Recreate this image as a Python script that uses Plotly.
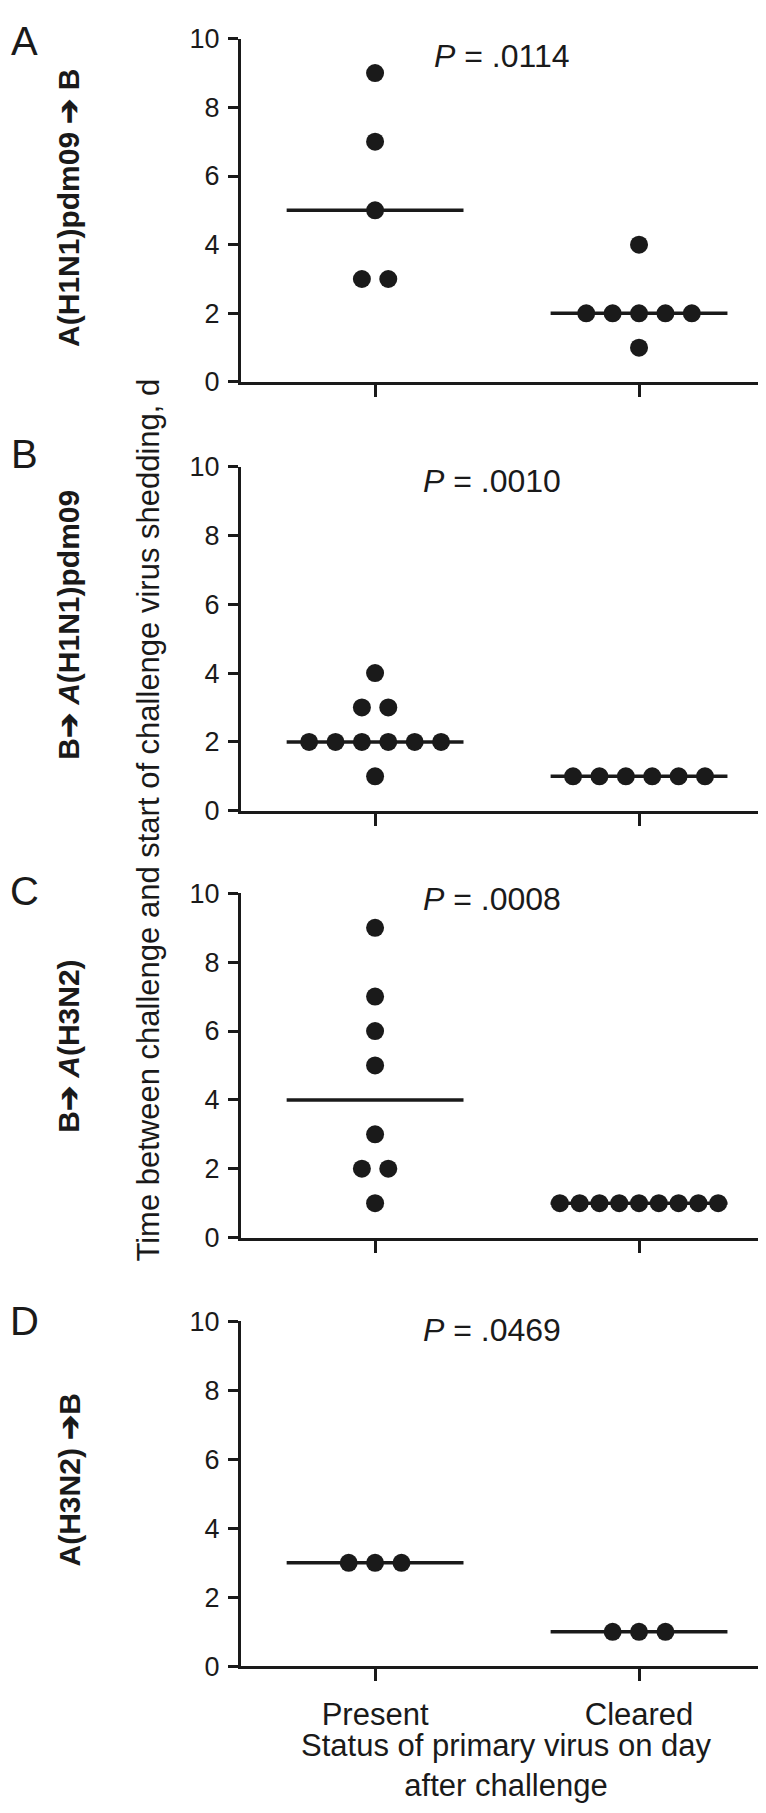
import numpy as np
import plotly.graph_objects as go
from plotly.subplots import make_subplots

W, H = 766, 1813

groups = ["Present", "Cleared"]
panel_letters = ["A", "B", "C", "D"]
row_titles = [
    "A(H1N1)pdm09 ➔ B",
    "B➔ <i>A</i>(H1N1)pdm09",
    "B➔ <i>A</i>(H3N2)",
    "A(H3N2) ➔B",
]
p_values = [".0114", ".0010", ".0008", ".0469"]

a_present = [9, 7, 5, 3, 3]
a_cleared = [4, 2, 2, 2, 2, 2, 1]
b_present = [4, 3, 3, 2, 2, 2, 2, 2, 2, 1]
b_cleared = [1, 1, 1, 1, 1, 1]
c_present = [9, 7, 6, 5, 3, 2, 2, 1]
c_cleared = [1, 1, 1, 1, 1, 1, 1, 1, 1]
d_present = [3, 3, 3]
d_cleared = [1, 1, 1]

panels = [
    (a_present, a_cleared),
    (b_present, b_cleared),
    (c_present, c_cleared),
    (d_present, d_cleared),
]

y_ticks = [0, 2, 4, 6, 8, 10]

# pixel layout (top, bottom of each plot area)
plot_px = [(16, 365), (451, 801), (885, 1235), (1320, 1671)]
x_px = (233, 763)
letter_y = [18, 438, 883, 1320]
rowlab_y = [188, 612, 1041, 1482]
p_xy = [(494, 34), (484, 466), (484, 891), (484, 1329)]

INK = "#1a1a1a"
FONT = "Liberation Sans, Arial, sans-serif"


def px(x):
    return x / W


def py(y):
    return 1 - y / H


def spread(vals):
    # centre equal values side by side, like a column scatter
    vals = np.asarray(vals, dtype=float)
    off = np.zeros(len(vals))
    for v in np.unique(vals):
        idx = np.where(vals == v)[0]
        n = len(idx)
        h = min(0.05 * (n - 1), 0.3)
        off[idx] = np.linspace(-h, h, n) if n > 1 else 0.0
    return off


fig = make_subplots(rows=4, cols=1)

for r, (pres, clr) in enumerate(panels, start=1):
    for gi, vals in enumerate([pres, clr]):
        med = float(np.median(vals))
        fig.add_trace(go.Scatter(
            x=[gi - 0.335, gi + 0.335], y=[med, med], mode="lines",
            line=dict(color=INK, width=3.5), hoverinfo="skip", showlegend=False,
        ), row=r, col=1)
        fig.add_trace(go.Scatter(
            x=gi + spread(vals), y=vals, mode="markers",
            marker=dict(color=INK, size=18, line=dict(width=0)),
            cliponaxis=False, showlegend=False,
        ), row=r, col=1)

    top, bot = plot_px[r - 1]
    fig.update_yaxes(
        domain=[py(bot), py(top)], range=[0, 10], tickvals=y_ticks,
        showline=True, linecolor=INK, linewidth=3, ticks="outside",
        ticklen=10, tickwidth=3, tickcolor=INK, showgrid=False, zeroline=False,
        tickfont=dict(family=FONT, size=27, color=INK), ticklabelstandoff=3,
        row=r, col=1,
    )
    fig.update_xaxes(
        domain=[px(x_px[0]), px(x_px[1])], range=[-0.508, 1.5],
        tickvals=[0, 1], ticktext=groups, showticklabels=(r == 4),
        showline=True, linecolor=INK, linewidth=3, ticks="outside",
        ticklen=12, tickwidth=3, tickcolor=INK, showgrid=False, zeroline=False,
        tickfont=dict(family=FONT, size=31, color=INK), ticklabelstandoff=6,
        row=r, col=1,
    )

ann = []
common = dict(xref="paper", yref="paper", showarrow=False,
              xanchor="center", yanchor="middle")
for i in range(4):
    ann.append(dict(
        text=panel_letters[i], x=px(16), y=py(letter_y[i]),
        font=dict(family=FONT, size=40, color=INK), **common,
    ))
    ann.append(dict(
        text="<b>" + row_titles[i] + "</b>", x=px(61), y=py(rowlab_y[i]),
        textangle=-90, font=dict(family=FONT, size=30, color=INK), **common,
    ))
    ann.append(dict(
        text="<i>P</i> = " + p_values[i], x=px(p_xy[i][0]), y=py(p_xy[i][1]),
        font=dict(family=FONT, size=32, color=INK), **common,
    ))

ann.append(dict(
    text="Time between challenge and start of challenge virus shedding, d",
    x=px(141), y=py(811), textangle=-90,
    font=dict(family=FONT, size=31, color=INK), **common,
))
ann.append(dict(
    text="Status of primary virus on day<br>after challenge",
    x=px(498), y=py(1772),
    font=dict(family=FONT, size=31, color=INK), **common,
))

fig.update_layout(
    width=W, height=H, margin=dict(l=0, r=0, t=0, b=0),
    plot_bgcolor="white", paper_bgcolor="white", annotations=ann,
)

fig.write_html("out.html")
